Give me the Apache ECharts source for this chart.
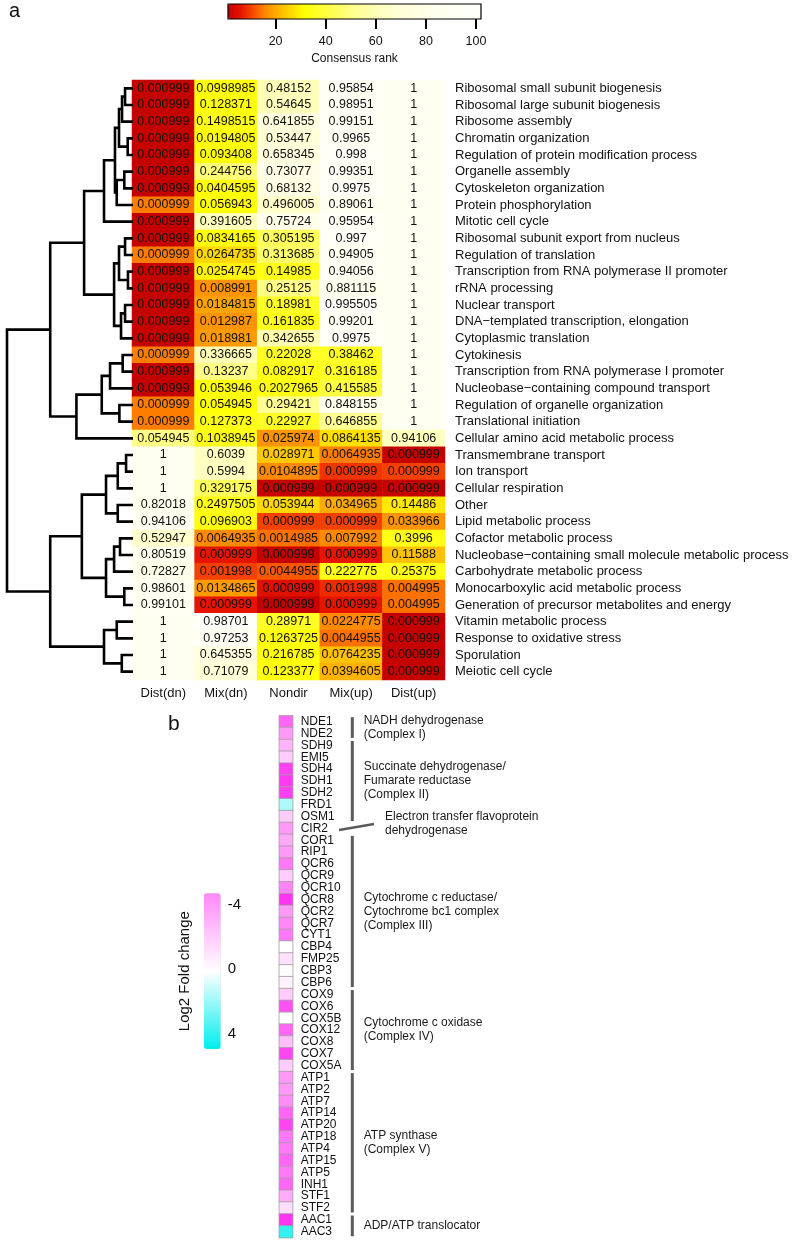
<!DOCTYPE html>
<html><head><meta charset="utf-8">
<script src="https://cdn.jsdelivr.net/npm/echarts@6/dist/echarts.min.js"></script>
<style>html,body{margin:0;padding:0;background:#fff}#c{width:800px;height:1240px}</style>
</head><body><div id="c"></div>
<script>
// ---------- Panel a data ----------
const processes = [
 'Ribosomal small subunit biogenesis','Ribosomal large subunit biogenesis','Ribosome assembly','Chromatin organization',
 'Regulation of protein modification process','Organelle assembly','Cytoskeleton organization','Protein phosphorylation',
 'Mitotic cell cycle','Ribosomal subunit export from nucleus','Regulation of translation','Transcription from RNA polymerase II promoter',
 'rRNA processing','Nuclear transport','DNA\u2212templated transcription, elongation','Cytoplasmic translation','Cytokinesis',
 'Transcription from RNA polymerase I promoter','Nucleobase\u2212containing compound transport','Regulation of organelle organization',
 'Translational initiation','Cellular amino acid metabolic process','Transmembrane transport','Ion transport','Cellular respiration',
 'Other','Lipid metabolic process','Cofactor metabolic process','Nucleobase\u2212containing small molecule metabolic process',
 'Carbohydrate metabolic process','Monocarboxylic acid metabolic process','Generation of precursor metabolites and energy',
 'Vitamin metabolic process','Response to oxidative stress','Sporulation','Meiotic cell cycle'];
const conditions = ['Dist(dn)','Mix(dn)','Nondir','Mix(up)','Dist(up)'];

const distDn = [0.000999,0.000999,0.000999,0.000999,0.000999,0.000999,0.000999,0.000999,0.000999,0.000999,0.000999,0.000999,
 0.000999,0.000999,0.000999,0.000999,0.000999,0.000999,0.000999,0.000999,0.000999,0.054945,1,1,1,0.82018,0.94106,0.52947,
 0.80519,0.72827,0.98601,0.99101,1,1,1,1];
const mixDn = [0.0998985,0.128371,0.1498515,0.0194805,0.093408,0.244756,0.0404595,0.056943,0.391605,0.0834165,0.0264735,
 0.0254745,0.008991,0.0184815,0.012987,0.018981,0.336665,0.13237,0.053946,0.054945,0.127373,0.1038945,0.6039,0.5994,0.329175,
 0.2497505,0.096903,0.0064935,0.000999,0.001998,0.0134865,0.000999,0.98701,0.97253,0.645355,0.71079];
const nondir = [0.48152,0.54645,0.641855,0.53447,0.658345,0.73077,0.68132,0.496005,0.75724,0.305195,0.313685,0.14985,0.25125,
 0.18981,0.161835,0.342655,0.22028,0.082917,0.2027965,0.29421,0.22927,0.025974,0.028971,0.0104895,0.000999,0.053944,0.000999,
 0.0014985,0.000999,0.0044955,0.000999,0.000999,0.28971,0.1263725,0.216785,0.123377];
const mixUp = [0.95854,0.98951,0.99151,0.9965,0.998,0.99351,0.9975,0.89061,0.95954,0.997,0.94905,0.94056,0.881115,0.995505,
 0.99201,0.9975,0.38462,0.316185,0.415585,0.848155,0.646855,0.0864135,0.0064935,0.000999,0.000999,0.034965,0.000999,0.007992,
 0.000999,0.222775,0.001998,0.000999,0.0224775,0.0044955,0.0764235,0.0394605];
const distUp = [1,1,1,1,1,1,1,1,1,1,1,1,1,1,1,1,1,1,1,1,1,0.94106,0.000999,0.000999,0.000999,0.14486,0.033966,0.3996,0.11588,
 0.25375,0.004995,0.004995,0.000999,0.000999,0.000999,0.000999];

// consensus ranks (cell colour)
const rankDistDn = [1,1,1,1,1,1,1,15,1,1,15,1,1,1,1,1,15,1,1,15,15,50,88,88,88,84,88,66,84,82,90,90,88,88,88,88];
const rankMixDn = [32,32,34,32,32,48,32,32,61,32,26,30,17,19,17,18,60,50,32,32,34,34,62,62,44,34,32,16,6,10,18,6,100,96,74,70];
const rankNondir = [61,61,74,70,74,78,76,65,80,44,46,34,50,36,34,58,36,34,34,52,36,17,24,16,1,26,10,14,1,12,5,1,36,32,32,32];
const rankMixUp = [95,95,95,95,98,96,98,88,95,98,92,92,84,98,96,98,36,36,40,82,52,27,15,9,1,20,10,16,6,34,8,6,16,14,23,21];
const rankDistUp = [88,88,88,88,88,88,88,88,88,88,88,88,88,88,88,88,88,88,88,88,88,62,1,10,1,28,17,34,23,34,14,14,1,1,1,1];

const rankTicks = [20,40,60,80,100];

// dendrogram (hclust-style merges: negative = leaf row, positive = earlier merge)
const mergeLeft  = [-1,1,-4,2,-6,5,4,7,-10,-12,9,-14,12,11,8,-17,16,-20,17,19,15,-23,22,-26,23,-28,26,-31,27,25,-33,-35,31,30,21];
const mergeRight = [-2,-3,-5,3,-7,-8,6,-9,-11,-13,10,-15,-16,13,14,-18,-19,-21,18,-22,20,-24,-25,-27,24,-29,-30,-32,28,29,-34,-36,32,33,34];
const mergeHeight = [0.063,0.087,0.042,0.111,0.069,0.129,0.143,0.230,0.063,0.040,0.111,0.063,0.095,0.150,0.388,0.082,0.182,
 0.108,0.248,0.449,0.657,0.055,0.121,0.121,0.214,0.103,0.150,0.069,0.214,0.406,0.129,0.089,0.230,0.657,1.0];

// ---------- Panel b data ----------
const genes = ['NDE1','NDE2','SDH9','EMI5','SDH4','SDH1','SDH2','FRD1','OSM1','CIR2','COR1','RIP1','QCR6','QCR9','QCR10',
 'QCR8','QCR2','QCR7','CYT1','CBP4','FMP25','CBP3','CBP6','COX9','COX6','COX5B','COX12','COX8','COX7','COX5A','ATP1','ATP2',
 'ATP7','ATP14','ATP20','ATP18','ATP4','ATP15','ATP5','INH1','STF1','STF2','AAC1','AAC3'];
const log2FC = [-6,-4,-3,-2,-7.5,-7.8,-7.5,1.6,-2,-4,-3.3,-4,-5.3,-2,-4.8,-8,-4,-4.7,-5.3,0,-1.2,-0.1,-0.5,-2,-6.8,0,-6,-2.6,
 -7.3,-2,-4,-4,-4.5,-6,-7.3,-5.3,-5.3,-6,-5.3,-6,-3.3,-1.3,-8,4];
const fcTicks = [-4,0,4];
const groupNames = ['NADH dehydrogenase\n(Complex I)','Succinate dehydrogenase/\nFumarate reductase\n(Complex II)',
 'Electron transfer flavoprotein\ndehydrogenase','Cytochrome c reductase/\nCytochrome bc1 complex\n(Complex III)',
 'Cytochrome c oxidase\n(Complex IV)','ATP synthase\n(Complex V)','ADP/ATP translocator'];
const groupStart = [0,2,9,10,23,30,42];
const groupEnd   = [1,8,9,22,29,41,43];

// ---------- build ----------
const valueCols = [distDn, mixDn, nondir, mixUp, distUp];
const rankCols = [rankDistDn, rankMixDn, rankNondir, rankMixUp, rankDistUp];
const heatA = [];
for (let c = 0; c < conditions.length; c++)
  for (let r = 0; r < processes.length; r++) heatA.push([c, r, rankCols[c][r]]);

const nodeY = [];
function nodePos(code){ return code < 0 ? {h:0, y:-code-1} : {h:mergeHeight[code-1], y:nodeY[code-1]}; }
const dendroData = mergeLeft.map((l,k)=>{
  const a = nodePos(l), b = nodePos(mergeRight[k]);
  nodeY[k] = (a.y + b.y)/2;
  return [mergeHeight[k], a.h, b.h, a.y, b.y];
});

const heatB = genes.map((g,i)=>[0, i, log2FC[i]]);
const groupData = groupNames.map((n,i)=>[0, groupStart[i], groupEnd[i]]);

const FONT = 'Liberation Sans';
const rankColors = ['#c40000','#e61400','#f84c00','#ff8c00','#ffb400','#ffda00','#ffff00','#ffff28','#ffff48','#ffff6c',
 '#ffff90','#ffffa8','#ffffbe','#ffffcf','#ffffdc','#ffffe5','#ffffec','#fffff0','#fffff4','#fffff7','#fffffa'];

const chart = echarts.init(document.getElementById('c'), null, {renderer:'canvas'});
chart.setOption({
  animation:false,
  backgroundColor:'#fff',
  textStyle:{fontFamily:FONT},
  title:[
    {text:'a', left:4, top:-4, textStyle:{fontFamily:FONT, fontSize:20, fontWeight:'normal', color:'#111'}},
    {text:'b', left:163, top:709, textStyle:{fontFamily:FONT, fontSize:21, fontWeight:'normal', color:'#111'}}
  ],
  grid:[
    {left:132, top:80, width:313, height:600},
    {left:7, top:80, width:126, height:600},
    {left:228, top:4, width:253, height:15, show:true, borderColor:'#000', borderWidth:1.2, backgroundColor:'transparent', z:10},
    {left:279.3, top:715.7, width:13.4, height:522},
    {left:204, top:893.3, width:16.7, height:155.7}
  ],
  xAxis:[
    {type:'category', gridIndex:0, data:conditions, position:'bottom', axisLine:{show:false}, axisTick:{show:false},
     axisLabel:{fontSize:13, color:'#111', margin:7}, splitLine:{show:false}},
    {type:'value', gridIndex:1, min:0, max:1, inverse:true, show:false},
    {type:'value', gridIndex:2, min:1, max:102, position:'bottom', axisLine:{show:false},
     axisTick:{show:true, customValues:rankTicks, length:10, lineStyle:{color:'#000', width:2}},
     axisLabel:{customValues:rankTicks, fontSize:12.5, color:'#111', margin:16},
     splitLine:{show:false}, name:'Consensus rank', nameLocation:'middle', nameGap:34,
     nameTextStyle:{fontSize:12, color:'#111'}},
    {type:'category', gridIndex:3, data:['fc'], show:false},
    {type:'value', gridIndex:4, min:0, max:1, show:false}
  ],
  yAxis:[
    {type:'category', gridIndex:0, data:processes, inverse:true, position:'right', axisLine:{show:false}, axisTick:{show:false},
     axisLabel:{fontSize:13, color:'#111', margin:10, interval:0}, splitLine:{show:false}},
    {type:'value', gridIndex:1, min:-0.5, max:35.5, inverse:true, show:false},
    {type:'category', gridIndex:2, data:[''], show:false},
    {type:'category', gridIndex:3, data:genes, inverse:true, position:'right', axisLine:{show:false}, axisTick:{show:false},
     axisLabel:{fontSize:12, color:'#111', margin:8, interval:0}, splitLine:{show:false}},
    {type:'value', gridIndex:4, min:-4.7, max:4.95, inverse:true, position:'right', axisLine:{show:false}, axisTick:{show:false},
     axisLabel:{customValues:fcTicks, fontSize:15, color:'#111', margin:7, formatter:v=>String(v)}, splitLine:{show:false}},
    {type:'value', gridIndex:4, min:-4.7, max:4.95, inverse:true, position:'left', axisLine:{show:false}, axisTick:{show:false},
     axisLabel:{show:false}, splitLine:{show:false}, name:'Log2 Fold change', nameLocation:'middle', nameGap:12,
     nameTextStyle:{fontSize:15, color:'#111'}}
  ],
  visualMap:[
    {type:'continuous', seriesIndex:0, dimension:2, min:1, max:102, orient:'horizontal', left:228, top:4,
     itemWidth:15, itemHeight:253, text:null, calculable:false, hoverLink:false, padding:0, inRange:{color:rankColors}},
    {type:'continuous', show:false, seriesIndex:2, dimension:2, min:-10, max:5,
     inRange:{color:['#ff00ee','#ff80f6','#ffffff','#00eeee']}},
    {type:'continuous', seriesIndex:4, min:-4.7, max:4.95, inverse:true, orient:'vertical', left:204, top:893.3,
     itemWidth:16.7, itemHeight:155.7, text:null, calculable:false, hoverLink:false, padding:0,
     inRange:{color:['#ff88f7','#ffffff','#00eeee']}}
  ],
  series:[
    {type:'heatmap', xAxisIndex:0, yAxisIndex:0, data:heatA, emphasis:{disabled:true},
     label:{show:true, fontSize:12.5, color:'#111', fontFamily:FONT,
       formatter:p=>String(valueCols[p.value[0]][p.value[1]])}},
    {type:'custom', xAxisIndex:1, yAxisIndex:1, data:dendroData, clip:false,
     encode:{x:[0,1,2], y:[3,4]},
     renderItem:(params, api)=>{
       const h=api.value(0), hl=api.value(1), hr=api.value(2), yl=api.value(3), yr=api.value(4);
       return {type:'polyline', shape:{points:[api.coord([hl,yl]), api.coord([h,yl]), api.coord([h,yr]), api.coord([hr,yr])]},
         style:{stroke:'#000', lineWidth:2.6, fill:null, lineJoin:'miter'}};
     }},
    {type:'heatmap', xAxisIndex:3, yAxisIndex:3, data:heatB, emphasis:{disabled:true},
     itemStyle:{borderColor:'#a0a0a0', borderWidth:0.8}, label:{show:false}},
    {type:'custom', xAxisIndex:3, yAxisIndex:3, data:groupData, clip:false, encode:{x:0, y:[1,2]},
     renderItem:(params, api)=>{
       const i = params.dataIndex;
       const s = api.value(1), e = api.value(2);
       const a = api.coord([0, s]), b = api.coord([0, e]);
       const rowH = api.size([0,1])[1];
       const cx = a[0];
       const txt = {fontFamily:FONT, fontSize:12, fill:'#1a1a1a', lineHeight:14.2, verticalAlign:'middle', align:'left'};
       if (s === e) {
         const yc = a[1];
         return {type:'group', children:[
           {type:'line', shape:{x1:cx+53, y1:yc+1.6, x2:cx+88, y2:yc-4.4}, style:{stroke:'#5a5a5a', lineWidth:2.5}},
           {type:'text', style:Object.assign({text:groupNames[i], x:cx+99, y:yc-4.4}, txt)}
         ]};
       }
       const y0 = a[1]-rowH/2 + 1.5, y1 = b[1]+rowH/2 - 1.5;
       return {type:'group', children:[
         {type:'line', shape:{x1:cx+66.3, y1:y0, x2:cx+66.3, y2:y1}, style:{stroke:'#5a5a5a', lineWidth:3}},
         {type:'text', style:Object.assign({text:groupNames[i], x:cx+77.7, y:(a[1]+b[1])/2}, txt)}
       ]};
     }},
    {type:'scatter', xAxisIndex:4, yAxisIndex:4, data:[], silent:true}
  ]
});
</script>
</body></html>
